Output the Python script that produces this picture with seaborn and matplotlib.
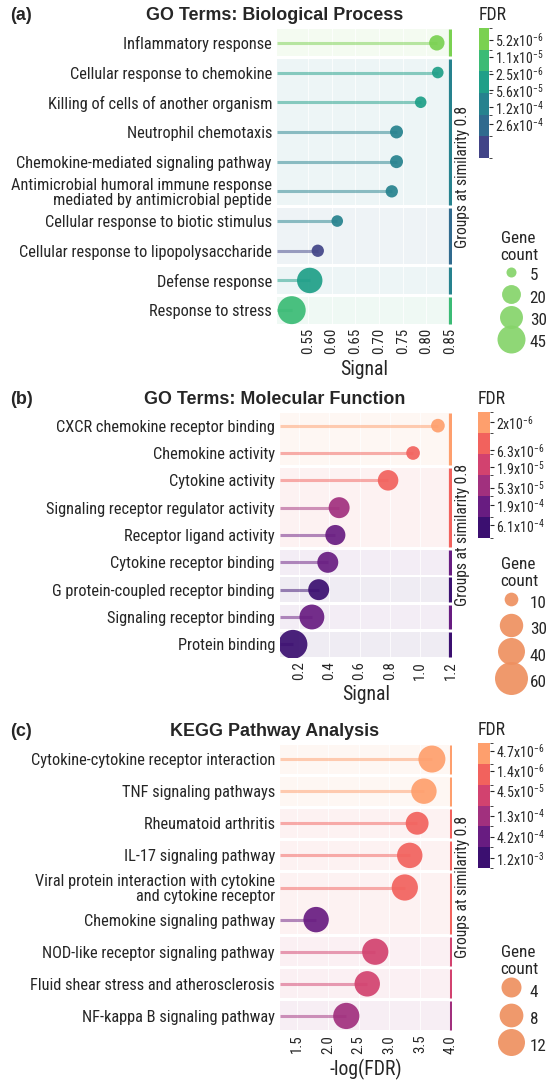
import numpy as np
import pandas as pd
import matplotlib
matplotlib.use('Agg')
import matplotlib.pyplot as plt
import seaborn as sns
from matplotlib import font_manager
from matplotlib.colors import ListedColormap, BoundaryNorm
from matplotlib.cm import ScalarMappable
from matplotlib.lines import Line2D
from matplotlib.ticker import FormatStrFormatter

# (a) GO terms: biological process
bp_terms = ['Inflammatory response', 'Cellular response to chemokine',
            'Killing of cells of another organism', 'Neutrophil chemotaxis',
            'Chemokine-mediated signaling pathway',
            'Antimicrobial humoral immune response\nmediated by antimicrobial peptide',
            'Cellular response to biotic stimulus',
            'Cellular response to lipopolysaccharide', 'Defense response',
            'Response to stress']
bp_signal = [0.822, 0.824, 0.788, 0.737, 0.737, 0.727, 0.612, 0.571, 0.554, 0.516]
bp_fdr = [5.2e-6, 2.5e-5, 2.5e-5, 5.6e-5, 5.6e-5, 5.6e-5, 5.6e-5, 2.6e-4, 2.5e-5, 1.1e-5]
bp_count = [13, 7, 7, 9, 9, 8, 7, 8, 37, 47]
bp_group = [0, 1, 1, 1, 1, 1, 2, 2, 3, 4]
bp_group_fdr = [5.2e-6, 5.6e-5, 1.2e-4, 5.6e-5, 1.1e-5]
bp_fdr_levels = [5.2e-6, 1.1e-5, 2.5e-5, 5.6e-5, 1.2e-4, 2.6e-4]
bp_fdr_labels = ['5.2x10$^{-6}$', '1.1x10$^{-5}$', '2.5x10$^{-6}$',
                 '5.6x10$^{-5}$', '1.2x10$^{-4}$', '2.6x10$^{-4}$']
bp_xticks = [0.55, 0.60, 0.65, 0.70, 0.75, 0.80, 0.85]
bp_legend = [5, 20, 30, 45]

# (b) GO terms: molecular function
mf_terms = ['CXCR chemokine receptor binding', 'Chemokine activity',
            'Cytokine activity', 'Signaling receptor regulator activity',
            'Receptor ligand activity', 'Cytokine receptor binding',
            'G protein-coupled receptor binding', 'Signaling receptor binding',
            'Protein binding']
mf_signal = [1.117, 0.953, 0.788, 0.465, 0.44, 0.39, 0.33, 0.285, 0.16]
mf_fdr = [2e-6, 6.3e-6, 6.3e-6, 5.3e-5, 1.9e-4, 1.9e-4, 6.1e-4, 1.9e-4, 6.1e-4]
mf_count = [3, 7, 23, 24, 22, 24, 24, 34, 46]
mf_group = [0, 0, 1, 1, 1, 2, 3, 4, 5]
mf_group_fdr = [2e-6, 6.3e-6, 1.9e-4, 6.1e-4, 1.9e-4, 6.1e-4]
mf_fdr_levels = [2e-6, 6.3e-6, 1.9e-5, 5.3e-5, 1.9e-4, 6.1e-4]
mf_fdr_labels = ['2x10$^{-6}$', '6.3x10$^{-6}$', '1.9x10$^{-5}$',
                 '5.3x10$^{-5}$', '1.9x10$^{-4}$', '6.1x10$^{-4}$']
mf_xticks = [0.2, 0.4, 0.6, 0.8, 1.0, 1.2]
mf_legend = [10, 30, 40, 60]

# (c) KEGG pathways
kegg_terms = ['Cytokine-cytokine receptor interaction', 'TNF signaling pathways',
              'Rheumatoid arthritis', 'IL-17 signaling pathway',
              'Viral protein interaction with cytokine\nand cytokine receptor',
              'Chemokine signaling pathway', 'NOD-like receptor signaling pathway',
              'Fluid shear stress and atherosclerosis', 'NF-kappa B signaling pathway']
kegg_logfdr = [3.69, 3.56, 3.45, 3.33, 3.25, 1.81, 2.77, 2.64, 2.30]
kegg_fdr = [4.7e-6, 4.7e-6, 1.4e-5, 1.4e-5, 1.4e-5, 4.2e-4, 4.5e-5, 4.5e-5, 1.3e-4]
kegg_count = [21, 10, 7, 10, 11, 10, 11, 10, 11]
kegg_group = [0, 1, 2, 3, 4, 4, 5, 6, 7]
kegg_group_fdr = [4.7e-6, 4.7e-6, 1.4e-5, 1.4e-5, 1.4e-5, 4.5e-5, 4.5e-5, 1.3e-4]
kegg_fdr_levels = [4.7e-6, 1.4e-5, 4.5e-5, 1.3e-4, 4.2e-4, 1.2e-3]
kegg_fdr_labels = ['4.7x10$^{-6}$', '1.4x10$^{-6}$', '4.5x10$^{-5}$',
                   '1.3x10$^{-4}$', '4.2x10$^{-4}$', '1.2x10$^{-3}$']
kegg_xticks = [1.5, 2.0, 2.5, 3.0, 3.5, 4.0]
kegg_legend = [4, 8, 12]

sns.set_style('white')
# narrow font if there is one, else plain Liberation Sans scaled down
names = {f.name for f in font_manager.fontManager.ttflist}
base, k = 'Liberation Sans', 0.82
for fam, scale in [('Liberation Sans Narrow', 1.0), ('Arial Narrow', 1.0),
                   ('Roboto Condensed', 0.95)]:
    if fam in names:
        base, k = fam, scale
        break
plt.rcParams['font.family'] = [base, 'DejaVu Sans']
plt.rcParams['mathtext.fontset'] = 'custom'
plt.rcParams['mathtext.rm'] = base
plt.rcParams['mathtext.it'] = base
plt.rcParams['mathtext.bf'] = base + ':bold'

viridis = sns.color_palette('viridis', as_cmap=True)
magma = sns.color_palette('magma', as_cmap=True)
green_cols = [viridis(v) for v in [0.8, 0.68, 0.56, 0.44, 0.34, 0.2]]
magma_cols = [magma(v) for v in [0.8, 0.67, 0.57, 0.45, 0.31, 0.2]]

W, H = 550, 1082
fig = plt.figure(figsize=(W / 100, H / 100), dpi=100)


def box(x0, y0, x1, y1):
    return fig.add_axes([x0 / W, 1 - y1 / H, (x1 - x0) / W, (y1 - y0) / H])


def panel(letter, title, top, ax_px, cb_px, leg_xy, terms, xs, fdr, counts, groups,
          group_fdr, cols, levels, labels, cb_frac, xticks, fmt, xlim, xlabel,
          sizes, size_norm, legend_vals, legend_col, leg_hh):
    fig.text(10 / W, 1 - top / H, letter, fontsize=13, fontweight='bold',
             family='Liberation Sans', va='center')
    fig.text(0.5, 1 - top / H, title, fontsize=12.9, fontweight='bold',
             family='Liberation Sans', va='center', ha='center')
    ax = box(*ax_px)
    cmap = ListedColormap(cols)
    lv = np.array(levels)
    edges = np.concatenate([[lv[0] / 10], np.sqrt(lv[:-1] * lv[1:]), [lv[-1] * 10]])
    norm = BoundaryNorm(edges, len(cols))
    n = len(terms)
    df = pd.DataFrame({'x': xs, 'fdr': fdr, 'count': counts, 'pos': np.arange(n)})
    bar_x = xticks[-1]
    gap = 0.05
    for g in sorted(set(groups)):
        rows = [i for i, v in enumerate(groups) if v == g]
        c = cmap(norm(group_fdr[g]))
        lo_, hi_ = min(rows) - 0.5 + gap, max(rows) + 0.5 - gap
        ax.axhspan(lo_, hi_, xmax=0.985, color=c, alpha=0.08, lw=0, zorder=0.2)
        ax.vlines(bar_x, lo_, hi_, color=c, lw=2.3, zorder=2)
    stem_cols = cmap(norm(df['fdr'].values))
    ax.hlines(df['pos'], xlim[0], df['x'], colors=stem_cols, lw=2.2, alpha=0.5, zorder=2)
    sns.scatterplot(data=df, x='x', y='pos', hue='fdr', palette=cmap, hue_norm=norm,
                    size='count', sizes=sizes, size_norm=size_norm, alpha=0.92,
                    linewidth=0, legend=False, ax=ax, zorder=3)
    ax.set_xlim(xlim)
    ax.set_ylim(n - 0.5, -0.5)
    ax.set_yticks(range(n))
    ax.set_yticklabels(terms)
    for t in ax.get_yticklabels():
        t.set_linespacing(1.0)
    ax.set_xticks(xticks)
    ax.xaxis.set_major_formatter(FormatStrFormatter(fmt))
    ax.tick_params(axis='y', length=0, pad=3.6, labelsize=12.4 * k)
    ax.tick_params(axis='x', length=0, pad=2, labelsize=11.4 * k, labelrotation=90)
    ax.grid(axis='x', color='white', lw=0.7, alpha=0.8)
    ax.grid(axis='y', visible=False)
    ax.set_ylabel('')
    ax.set_xlabel(xlabel, fontsize=15 * k, labelpad=4)
    for s in ax.spines.values():
        s.set_visible(False)
    cy = (ax_px[1] + ax_px[3]) / 2
    fig.text(463 / W, 1 - cy / H, 'Groups at similarity 0.8', rotation=90,
             fontsize=11.8 * k, ha='center', va='center')

    # FDR colorbar, lightest block on top
    cax = box(*cb_px)
    sm = ScalarMappable(norm=BoundaryNorm(np.arange(len(cols) + 1), len(cols)),
                        cmap=ListedColormap(cols[::-1]))
    cb = fig.colorbar(sm, cax=cax)
    cb.outline.set_visible(False)
    m = len(cols)
    cb.set_ticks([m * (1 - f) for f in cb_frac])
    cb.set_ticklabels(labels)
    cax.tick_params(length=3, width=0.8, pad=1, labelsize=10.5 * k)
    fig.text(cb_px[0] / W, 1 - (cb_px[1] - 13) / H, 'FDR', fontsize=13.5 * k, va='center')

    # gene count legend, same size scale as the points
    lo, hi = sizes
    n0, n1 = size_norm
    handles = [Line2D([], [], ls='', marker='o', color=legend_col, alpha=0.92,
                      markeredgewidth=0,
                      markersize=np.sqrt(lo + (v - n0) / (n1 - n0) * (hi - lo)))
               for v in legend_vals]
    fig.legend(handles, [str(v) for v in legend_vals], title='Gene\ncount',
               loc='upper left', bbox_to_anchor=(leg_xy[0] / W, 1 - leg_xy[1] / H),
               frameon=False, alignment='left', fontsize=13 * k,
               title_fontsize=13 * k, handletextpad=0.5, labelspacing=0.05,
               borderpad=0, handlelength=1.2, handleheight=leg_hh)
    return ax


panel('(a)', 'GO Terms: Biological Process', 16, (277, 28, 452, 325), (479, 28, 489, 158),
      (492, 222), bp_terms, bp_signal, bp_fdr, bp_count, bp_group, bp_group_fdr,
      green_cols, bp_fdr_levels, bp_fdr_labels,
      [0.09, 0.22, 0.35, 0.48, 0.61, 0.74], bp_xticks, '%.2f', (0.485, 0.854), 'Signal',
      (52, 406), (5, 45), bp_legend, '#86d46a', 1.55)

panel('(b)', 'GO Terms: Molecular Function', 399, (280, 412, 452, 658), (478, 412, 490, 538),
      (492, 548), mf_terms, mf_signal, mf_fdr, mf_count, mf_group, mf_group_fdr,
      magma_cols, mf_fdr_levels, mf_fdr_labels,
      [0.08, 0.3, 0.44, 0.6, 0.74, 0.9], mf_xticks, '%.1f', (0.0746, 1.21), 'Signal',
      (97, 564), (10, 60), mf_legend, '#ee9060', 1.9)

panel('(c)', 'KEGG Pathway Analysis', 731, (280, 743, 452, 1032), (478, 743, 490, 868),
      (492, 936), kegg_terms, kegg_logfdr, kegg_fdr, kegg_count, kegg_group, kegg_group_fdr,
      magma_cols, kegg_fdr_levels, kegg_fdr_labels,
      [0.06, 0.22, 0.38, 0.58, 0.75, 0.92], kegg_xticks, '%.1f', (1.224, 4.016), '-log(FDR)',
      (207, 378), (4, 12), kegg_legend, '#ee9060', 2.0)

fig.savefig('out.png', dpi=100)
